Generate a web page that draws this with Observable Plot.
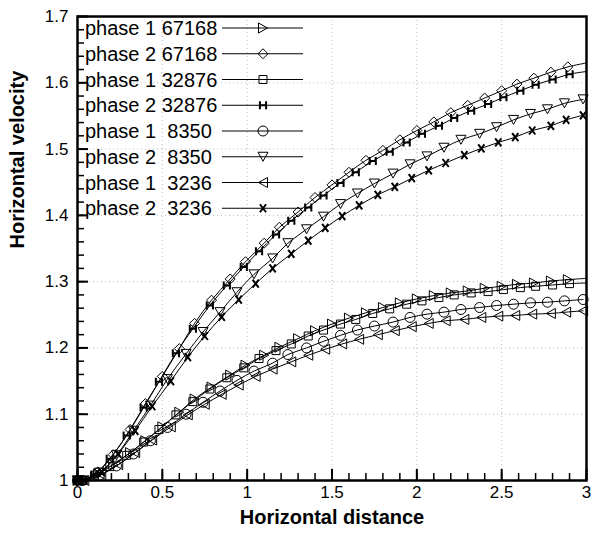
<!DOCTYPE html>
<html><head><meta charset="utf-8">
<script src="https://cdn.jsdelivr.net/npm/d3@7"></script>
<script src="https://cdn.jsdelivr.net/npm/@observablehq/plot@0.6"></script>
<style>
body{margin:0;background:#fff;}
#chart svg{font-family:"Liberation Sans",Arial,Helvetica,sans-serif;background:#fff;}
</style></head><body><div id="chart"></div>
<script>
// ---- data ----
const legendLabels = ["phase 1 67168","phase 2 67168","phase 1 32876","phase 2 32876","phase 1  8350","phase 2  8350","phase 1  3236","phase 2  3236"];

const x67168 = [0,0.02,0.12,0.21,0.31,0.40,0.50,0.60,0.69,0.79,0.90,0.99,1.10,1.19,1.30,1.40,1.50,1.60,1.70,1.80,1.90,2.00,2.10,2.20,2.30,2.40,2.50,2.59,2.69,2.79,2.89,3.0];
const p1_67168 = [1.0,1.0,1.010,1.024,1.042,1.060,1.081,1.103,1.123,1.141,1.159,1.174,1.189,1.201,1.214,1.226,1.236,1.245,1.253,1.261,1.268,1.274,1.279,1.283,1.286,1.290,1.293,1.296,1.298,1.301,1.303,1.305];
const p2_67168 = [1.0,1.0,1.013,1.039,1.077,1.116,1.157,1.199,1.237,1.272,1.304,1.330,1.358,1.382,1.405,1.427,1.446,1.465,1.483,1.498,1.514,1.528,1.541,1.555,1.566,1.577,1.588,1.598,1.607,1.616,1.624,1.630];

const x32876 = [0,0.03,0.10,0.19,0.29,0.39,0.48,0.58,0.68,0.78,0.88,0.98,1.07,1.17,1.26,1.36,1.45,1.55,1.64,1.74,1.84,1.94,2.03,2.13,2.22,2.32,2.42,2.51,2.61,2.70,2.80,2.90,3.0];
const p1_32876 = [1.0,1.0,1.007,1.021,1.038,1.058,1.077,1.099,1.119,1.138,1.155,1.170,1.184,1.196,1.206,1.218,1.227,1.236,1.243,1.252,1.259,1.266,1.271,1.276,1.280,1.283,1.285,1.288,1.291,1.293,1.295,1.297,1.298];
const p2_32876 = [1.0,1.0,1.009,1.033,1.068,1.110,1.149,1.192,1.229,1.264,1.294,1.322,1.346,1.371,1.392,1.412,1.430,1.449,1.465,1.482,1.496,1.510,1.523,1.535,1.547,1.558,1.568,1.578,1.588,1.597,1.605,1.613,1.617];

const x8350 = [0,0.03,0.13,0.23,0.33,0.43,0.53,0.64,0.74,0.84,0.94,1.04,1.15,1.24,1.35,1.45,1.55,1.65,1.75,1.86,1.96,2.06,2.16,2.26,2.37,2.47,2.57,2.67,2.77,2.87,2.98];
const p1_8350 = [1.0,1.0,1.008,1.022,1.040,1.060,1.080,1.100,1.118,1.135,1.151,1.165,1.177,1.190,1.200,1.210,1.219,1.227,1.233,1.239,1.246,1.251,1.254,1.258,1.261,1.264,1.266,1.268,1.269,1.271,1.273];
const p2_8350 = [1.0,1.0,1.012,1.038,1.075,1.113,1.153,1.191,1.224,1.254,1.284,1.311,1.335,1.358,1.379,1.398,1.417,1.433,1.448,1.463,1.477,1.489,1.502,1.514,1.523,1.533,1.544,1.553,1.560,1.569,1.575];

const x3236 = [0,0.04,0.14,0.24,0.34,0.44,0.55,0.65,0.75,0.85,0.95,1.05,1.15,1.26,1.36,1.46,1.56,1.66,1.77,1.87,1.97,2.07,2.17,2.28,2.38,2.48,2.58,2.68,2.79,2.88,2.98];
const p1_3236 = [1.0,1.0,1.009,1.024,1.042,1.061,1.081,1.099,1.115,1.130,1.144,1.157,1.168,1.179,1.189,1.198,1.206,1.213,1.220,1.226,1.232,1.237,1.241,1.243,1.246,1.248,1.249,1.251,1.252,1.254,1.256];
const p2_3236 = [1.0,1.001,1.013,1.040,1.075,1.112,1.150,1.186,1.218,1.247,1.273,1.297,1.320,1.342,1.362,1.381,1.399,1.415,1.431,1.443,1.456,1.468,1.479,1.491,1.501,1.510,1.518,1.528,1.535,1.544,1.551];

const xTicks = [0,0.5,1,1.5,2,2.5,3];
const yTicks = [1,1.1,1.2,1.3,1.4,1.5,1.6,1.7];
const xTitle = "Horizontal distance";
const yTitle = "Horizontal velocity";

// ---- symbols ----
const rad = s => Math.sqrt(s/Math.PI);
const symRight = {draw(c,s){const r=rad(s);c.moveTo(0.9*r,0);c.lineTo(-0.9*r,-r);c.lineTo(-0.9*r,r);c.closePath();}};
const symLeft = {draw(c,s){const r=rad(s);c.moveTo(-0.9*r,0);c.lineTo(0.9*r,-r);c.lineTo(0.9*r,r);c.closePath();}};
const symDown = {draw(c,s){const r=rad(s);c.moveTo(0,0.9*r);c.lineTo(-r,-0.9*r);c.lineTo(r,-0.9*r);c.closePath();}};
const symDiamond = {draw(c,s){const r=rad(s);c.moveTo(0,-r);c.lineTo(r,0);c.lineTo(0,r);c.lineTo(-r,0);c.closePath();}};
const symSquare = {draw(c,s){const r=rad(s)*0.8;c.moveTo(-r,-r);c.lineTo(r,-r);c.lineTo(r,r);c.lineTo(-r,r);c.closePath();}};
const symCircle = {draw(c,s){const r=rad(s);c.moveTo(r,0);c.arc(0,0,r,0,2*Math.PI);}};
const symH = {draw(c,s){const r=rad(s);const w=0.62*r,h=0.8*r;c.moveTo(-w,-h);c.lineTo(-w,h);c.moveTo(w,-h);c.lineTo(w,h);c.moveTo(-w,0);c.lineTo(w,0);}};
const symX = {draw(c,s){const r=rad(s);const w=0.62*r,h=0.8*r;c.moveTo(-w,-h);c.lineTo(w,h);c.moveTo(w,-h);c.lineTo(-w,h);}};

const series = [
  {label:legendLabels[0], xs:x67168, ys:p1_67168, sym:symRight, sw:1, lastLineOnly:true},
  {label:legendLabels[1], xs:x67168, ys:p2_67168, sym:symDiamond, sw:1, lastLineOnly:true},
  {label:legendLabels[2], xs:x32876, ys:p1_32876, sym:symSquare, sw:1, lastLineOnly:true},
  {label:legendLabels[3], xs:x32876, ys:p2_32876, sym:symH, sw:2, lastLineOnly:true},
  {label:legendLabels[4], xs:x8350, ys:p1_8350, sym:symCircle, sw:1, lastLineOnly:false},
  {label:legendLabels[5], xs:x8350, ys:p2_8350, sym:symDown, sw:1, lastLineOnly:false},
  {label:legendLabels[6], xs:x3236, ys:p1_3236, sym:symLeft, sw:1, lastLineOnly:false},
  {label:legendLabels[7], xs:x3236, ys:p2_3236, sym:symX, sw:2, lastLineOnly:false}
];

const W=591,H=535,mL=77,mR=5,mT=16,mB=55;
const plotW=W-mL-mR, plotH=H-mT-mB;
const R=5;

const xMinor = d3.range(0,31).map(i=>i/10);
const yMinor = d3.range(0,36).map(i=>1+i/50);

const marks = [];
marks.push(Plot.ruleX(xTicks.slice(1,-1),{stroke:"#bbb",strokeDasharray:"1,3",strokeWidth:1}));
marks.push(Plot.ruleY(yTicks.slice(1,-1),{stroke:"#bbb",strokeDasharray:"1,3",strokeWidth:1}));
for (const s of series) {
  const pts = s.xs.map((x,i)=>({x, y:s.ys[i]}));
  marks.push(Plot.line(pts,{x:"x",y:"y",curve:"catmull-rom",stroke:"black",strokeWidth:1}));
  const mpts = s.lastLineOnly ? pts.slice(0,-1) : pts;
  marks.push(Plot.dot(mpts,{x:"x",y:"y",r:R,symbol:s.sym,stroke:"black",fill:"none",strokeWidth:s.sw}));
}
// ticks pointing inward
marks.push(Plot.tickX(xMinor,{x:d=>d,insetTop:plotH-7,stroke:"black",strokeWidth:1.5}));
marks.push(Plot.tickX(xTicks,{x:d=>d,insetTop:plotH-11,stroke:"black",strokeWidth:2}));
marks.push(Plot.tickY(yMinor,{y:d=>d,insetRight:plotW-7,stroke:"black",strokeWidth:1.5}));
marks.push(Plot.tickY(yTicks,{y:d=>d,insetRight:plotW-11,stroke:"black",strokeWidth:2}));
marks.push(Plot.frame({stroke:"black",strokeWidth:2.5}));
marks.push(Plot.text([xTitle],{frameAnchor:"bottom",dy:43,fontSize:20,fontWeight:"bold",fill:"black"}));
marks.push(Plot.text([yTitle],{frameAnchor:"left",dx:-60,rotate:-90,fontSize:20,fontWeight:"bold",fill:"black"}));

const svg = Plot.plot({
  width:W, height:H,
  marginLeft:mL, marginRight:mR, marginTop:mT, marginBottom:mB,
  style:{fontSize:"17px", color:"black", background:"#fff"},
  x:{domain:[0,3], ticks:xTicks, tickSize:0, tickPadding:5, tickFormat:d=>String(d), label:null},
  y:{domain:[1,1.7], ticks:yTicks, tickSize:0, tickPadding:9, tickFormat:d=>String(d), label:null},
  marks
});

// legend inside the plot, top-left
const g = d3.select(svg).append("g").attr("class","legend").attr("text-anchor","start");
series.forEach((s,i)=>{
  const y = 28 + i*25.75;
  g.append("text").attr("x",85).attr("y",y).attr("dy","0.35em").attr("text-anchor","start")
    .attr("font-size",20).attr("fill","black").style("white-space","pre").attr("xml:space","preserve")
    .text(s.label);
  g.append("line").attr("x1",222).attr("x2",303).attr("y1",y).attr("y2",y).attr("stroke","black").attr("stroke-width",1);
  g.append("path").attr("transform",`translate(263,${y})`)
    .attr("d",d3.symbol(s.sym,Math.PI*R*R)())
    .attr("fill","none").attr("stroke","black").attr("stroke-width",s.sw);
});

document.getElementById("chart").appendChild(svg);
</script></body></html>
